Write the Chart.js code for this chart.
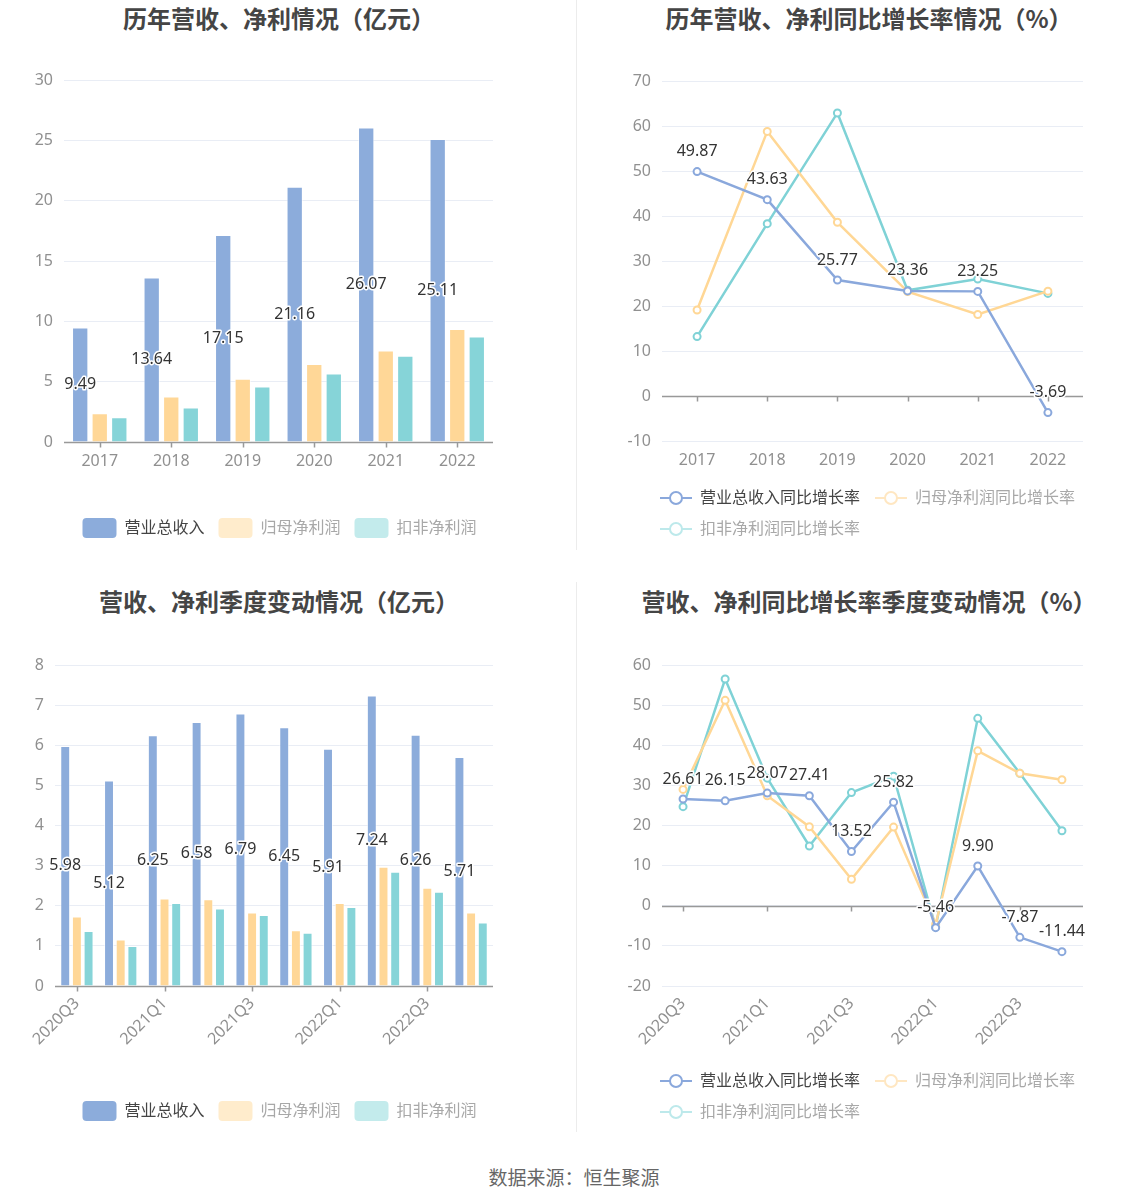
<!DOCTYPE html>
<html>
<head>
<meta charset="utf-8">
<script src="https://cdn.jsdelivr.net/npm/chart.js@4.4.1/dist/chart.umd.min.js"></script>
<style>
  html, body { margin:0; padding:0; background:#fff; width:1148px; height:1202px; overflow:hidden; }
  .box { position:absolute; }
  .title { position:absolute; font-family:"Noto Sans CJK SC", sans-serif; font-weight:bold; font-size:24px; color:#454545; white-space:nowrap; transform:translate(-50%,-50%); }
  .vline { position:absolute; left:576px; width:1px; background:#ececec; }
  #footer { position:absolute; left:574px; top:1176px; transform:translate(-50%,-50%); font-family:"Noto Sans CJK SC", sans-serif; font-size:19px; color:#666; white-space:nowrap; }
</style>
</head>
<body>
<div class="vline" style="top:0;height:550px"></div>
<div class="vline" style="top:582px;height:550px"></div>
<div class="title" style="left:279px;top:17px">历年营收、净利情况（亿元）</div>
<div class="title" style="left:869px;top:17px">历年营收、净利同比增长率情况（%）</div>
<div class="title" style="left:279px;top:600px">营收、净利季度变动情况（亿元）</div>
<div class="title" style="left:869px;top:600px">营收、净利同比增长率季度变动情况（%）</div>
<div class="box" style="left:0;top:0;width:577px;height:548px"><canvas id="c1"></canvas></div>
<div class="box" style="left:577px;top:0;width:571px;height:547px"><canvas id="c2"></canvas></div>
<div class="box" style="left:0;top:580px;width:577px;height:551px"><canvas id="c3"></canvas></div>
<div class="box" style="left:577px;top:580px;width:571px;height:550px"><canvas id="c4"></canvas></div>
<div id="footer">数据来源：恒生聚源</div>
<script>
// ---------- DATA ----------
const years = ['2017', '2018', '2019', '2020', '2021', '2022'];
const annualRevenue = [9.49, 13.64, 17.15, 21.16, 26.07, 25.11];
const annualNetProfit = [2.38, 3.77, 5.24, 6.46, 7.59, 9.37];
const annualDeductedProfit = [2.05, 2.85, 4.60, 5.68, 7.15, 8.75];

const annualRevenueGrowth = [49.87, 43.63, 25.77, 23.36, 23.25, -3.69];
const annualNetProfitGrowth = [19.1, 58.8, 38.6, 23.2, 18.1, 23.3];
const annualDeductedGrowth = [13.2, 38.3, 62.9, 23.5, 26.0, 22.8];

const quarters = ['2020Q3', '2020Q4', '2021Q1', '2021Q2', '2021Q3', '2021Q4', '2022Q1', '2022Q2', '2022Q3', '2022Q4'];
const quarterRevenue = [5.98, 5.12, 6.25, 6.58, 6.79, 6.45, 5.91, 7.24, 6.26, 5.71];
const quarterNetProfit = [1.73, 1.16, 2.18, 2.16, 1.83, 1.39, 2.07, 2.97, 2.45, 1.83];
const quarterDeductedProfit = [1.37, 1.00, 2.07, 1.93, 1.77, 1.33, 1.97, 2.85, 2.35, 1.58];

const quarterRevenueGrowth = [26.61, 26.15, 28.07, 27.41, 13.52, 25.82, -5.46, 9.90, -7.87, -11.44];
const quarterNetProfitGrowth = [29.0, 51.2, 27.4, 19.7, 6.6, 19.6, -4.6, 38.6, 33.0, 31.4];
const quarterDeductedGrowth = [24.7, 56.5, 31.8, 14.9, 28.2, 32.3, -5.3, 46.7, 33.0, 18.7];

const barSeriesNames = ['营业总收入', '归母净利润', '扣非净利润'];
const lineSeriesNames = ['营业总收入同比增长率', '归母净利润同比增长率', '扣非净利润同比增长率'];

// ---------- STYLE ----------
const BLUE = '#8cacdb', YELLOW = '#ffd797', TEAL = '#86d4d8';
const LBLUE = '#8aa8dc', LYELLOW = '#ffd795', LTEAL = '#7fd2d6';
const legendSwatch = ['#8cacdb', '#ffeccc', '#c3ebec'];
const legendLineColor = ['#8aa8dc', '#ffe7c2', '#bde9eb'];
const legendTextColor = ['#444', '#a8a8a8', '#a8a8a8'];
const FONT = '"Noto Sans", "Noto Sans CJK SC", sans-serif';
Chart.defaults.font.family = FONT;
Chart.defaults.font.size = 16;
Chart.defaults.color = '#909090';
Chart.defaults.animation = false;

function lineIcon(color) {
  const c = document.createElement('canvas');
  c.width = 32; c.height = 16;
  const g = c.getContext('2d');
  g.strokeStyle = color; g.lineWidth = 2;
  g.beginPath(); g.moveTo(0, 8); g.lineTo(32, 8); g.stroke();
  g.beginPath(); g.arc(16, 8, 6, 0, Math.PI * 2); g.fillStyle = '#fff'; g.fill(); g.stroke();
  return c;
}

const valueLabels = {
  id: 'valueLabels',
  afterDatasetsDraw(chart, args, opts) {
    const ctx = chart.ctx;
    const meta = chart.getDatasetMeta(0);
    const ds = chart.data.datasets[0];
    ctx.save();
    ctx.font = '16px ' + FONT;
    ctx.textAlign = 'center'; ctx.textBaseline = 'middle';
    ctx.lineWidth = 3; ctx.lineJoin = 'round';
    ctx.strokeStyle = '#fff'; ctx.fillStyle = '#333';
    meta.data.forEach((el, i) => {
      const txt = ds.data[i].toFixed(2);
      const y = opts.mode === 'bar' ? (el.y + el.base) / 2 : el.y - 20;
      ctx.strokeText(txt, el.x, y);
      ctx.fillText(txt, el.x, y);
    });
    ctx.restore();
  }
};

const zeroAxis = {
  id: 'zeroAxis',
  beforeDatasetsDraw(chart, args, opts) {
    const {ctx, chartArea, scales} = chart;
    const py = Math.round(scales.y.getPixelForValue(0)) + 0.5;
    ctx.save();
    ctx.strokeStyle = '#999'; ctx.lineWidth = 1.5;
    ctx.beginPath();
    ctx.moveTo(chartArea.left, py); ctx.lineTo(chartArea.right, py);
    const step = opts.step || 1;
    for (let i = 0; i < chart.data.labels.length; i += step) {
      const px = Math.round(scales.x.getPixelForValue(i)) + 0.5;
      ctx.moveTo(px, py); ctx.lineTo(px, py + 5);
    }
    ctx.stroke();
    ctx.restore();
  }
};

const legendShift = {
  id: 'legendShift',
  afterLayout(chart, args, opts) {
    if (opts.dx && chart.legend) { chart.legend.left += opts.dx; chart.legend.right += opts.dx; }
  }
};

function barLegendLabels(chart) {
  return chart.data.datasets.map((d, i) => ({
    text: d.label, fillStyle: legendSwatch[i], strokeStyle: legendSwatch[i], lineWidth: 0,
    fontColor: legendTextColor[i], datasetIndex: i, hidden: !chart.isDatasetVisible(i),
    borderRadius: 4
  }));
}
function lineLegendLabels(chart) {
  return chart.data.datasets.map((d, i) => ({
    text: d.label, fillStyle: '#fff', strokeStyle: legendLineColor[i], lineWidth: 0,
    fontColor: legendTextColor[i], datasetIndex: i, hidden: !chart.isDatasetVisible(i),
    pointStyle: lineIcon(legendLineColor[i])
  }));
}

function barChart(id, labels, rev, np, dp, cfg) {
  const mk = (label, data, color) => ({
    label, data, backgroundColor: color, borderColor: 'rgba(255,255,255,0.6)', borderWidth: 1,
    barPercentage: cfg.barPct, categoryPercentage: cfg.catPct
  });
  return new Chart(document.getElementById(id), {
    type: 'bar',
    data: { labels, datasets: [mk(barSeriesNames[0], rev, BLUE), mk(barSeriesNames[1], np, YELLOW), mk(barSeriesNames[2], dp, TEAL)] },
    options: {
      responsive: true, maintainAspectRatio: false,
      layout: { padding: { top: cfg.padTop, right: cfg.padRight, left: 0, bottom: 0 } },
      scales: {
        x: {
          grid: { display: false }, border: { display: false },
          ticks: Object.assign({ color: '#909090', padding: 2, autoSkip: false }, cfg.xTicks || {}),
          afterFit(s) { s.height = cfg.xHeight; }
        },
        y: {
          min: cfg.yMin, max: cfg.yMax,
          grid: { color: '#e9edf5', drawTicks: false }, border: { display: false },
          ticks: { stepSize: cfg.yStep, color: '#909090', padding: 11 },
          afterFit(s) { s.width = cfg.yWidth; }
        }
      },
      plugins: {
        legend: {
          position: 'bottom',
          labels: { boxWidth: 34, boxHeight: 20, padding: 14, useBorderRadius: true, borderRadius: 4,
                    font: { size: 16 }, generateLabels: barLegendLabels }
        },
        legendShift: { dx: 33 },
        tooltip: { enabled: false },
        valueLabels: { mode: 'bar' },
        zeroAxis: { step: cfg.tickStep || 1 }
      }
    },
    plugins: [valueLabels, zeroAxis, legendShift]
  });
}

function lineChart(id, labels, rev, np, dp, cfg) {
  const mk = (label, data, color) => ({
    label, data, borderColor: color, backgroundColor: '#fff', borderWidth: 2.5,
    pointRadius: 3.5, pointBorderWidth: 2, pointBackgroundColor: '#fff', pointBorderColor: color,
    tension: 0, fill: false
  });
  return new Chart(document.getElementById(id), {
    type: 'line',
    data: { labels, datasets: [mk(lineSeriesNames[0], rev, LBLUE), mk(lineSeriesNames[1], np, LYELLOW), mk(lineSeriesNames[2], dp, LTEAL)] },
    options: {
      responsive: true, maintainAspectRatio: false,
      layout: { padding: { top: cfg.padTop, right: cfg.padRight, left: 0, bottom: 0 } },
      scales: {
        x: {
          offset: true,
          grid: { display: false }, border: { display: false },
          ticks: Object.assign({ color: '#909090', padding: 2, autoSkip: false }, cfg.xTicks || {}),
          afterFit(s) { s.height = cfg.xHeight; }
        },
        y: {
          min: cfg.yMin, max: cfg.yMax,
          grid: { color: '#e9edf5', drawTicks: false }, border: { display: false },
          ticks: { stepSize: cfg.yStep, color: '#909090', padding: 11 },
          afterFit(s) { s.width = cfg.yWidth; }
        }
      },
      plugins: {
        legend: {
          position: 'bottom', align: 'start',
          labels: { usePointStyle: true, pointStyleWidth: 32, padding: 15, font: { size: 16 },
                    generateLabels: lineLegendLabels }
        },
        legendShift: { dx: 68 },
        tooltip: { enabled: false },
        valueLabels: { mode: 'line' },
        zeroAxis: { step: cfg.tickStep || 1 }
      }
    },
    plugins: [zeroAxis, valueLabels, legendShift]
  });
}

const rotTicks = {
  minRotation: 45, maxRotation: 45, padding: 0,
  callback(v, i) { return i % 2 === 0 ? this.getLabelForValue(v) : ''; }
};

barChart('c1', years, annualRevenue, annualNetProfit, annualDeductedProfit,
  { barPct: 0.835, catPct: 0.82, padTop: 80, padRight: 84, xHeight: 62, yWidth: 64, yMin: 0, yMax: 30, yStep: 5 });
lineChart('c2', years, annualRevenueGrowth, annualNetProfitGrowth, annualDeductedGrowth,
  { padTop: 81, padRight: 65, xHeight: 34, yWidth: 85, yMin: -10, yMax: 70, yStep: 10 });
barChart('c3', quarters, quarterRevenue, quarterNetProfit, quarterDeductedProfit,
  { barPct: 0.85, catPct: 0.80, padTop: 85, padRight: 84, xHeight: 101, yWidth: 55, yMin: 0, yMax: 8, yStep: 1, xTicks: rotTicks, tickStep: 2 });
lineChart('c4', quarters, quarterRevenueGrowth, quarterNetProfitGrowth, quarterDeductedGrowth,
  { padTop: 85, padRight: 65, xHeight: 72, yWidth: 85, yMin: -20, yMax: 60, yStep: 10, xTicks: rotTicks, tickStep: 2 });
</script>
</body>
</html>
